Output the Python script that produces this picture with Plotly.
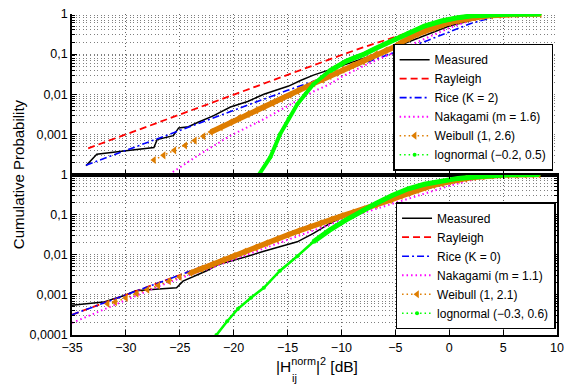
import numpy as np
import plotly.graph_objects as go

# ---------------- data ----------------
x_ticks = [-35, -30, -25, -20, -15, -10, -5, 0, 5, 10]
y_tickvals_top = [1, 0.1, 0.01, 0.001]
y_ticktext_top = ["1", "0,1", "0,01", "0,001"]
y_tickvals_bot = [1, 0.1, 0.01, 0.001, 0.0001]
y_ticktext_bot = ["1", "0,1", "0,01", "0,001", "0,0001"]

# top panel
meas_top_x = [-33.7, -32.7, -30, -27.4, -27.1, -25.6, -25.1, -24.2, -23.3, -21.9, -20.3, -18.7, -17.2,
              -16.0, -14.9, -13.8, -12.6, -11.2, -9.9, -8.5, -7, -5, -3, 0, 3, 6, 8.3]
meas_top_y = [1.66e-4, 3.2e-4, 3.9e-4, 4.7e-4, 7.4e-4, 9.3e-4, 1.45e-3, 1.55e-3, 2.0e-3, 2.9e-3, 4.8e-3,
              6.6e-3, 0.010, 0.013, 0.016, 0.022, 0.030, 0.040, 0.052, 0.068, 0.095, 0.15, 0.24, 0.5, 0.8,
              0.96, 1.0]
ray_top_x = [-33.5, -30, -25, -20, -15, -12, -10, -8, -6, -4, -2, 0, 2, 4, 6, 8.3]
ray_top_y = [4.5e-4, 1.0e-3, 3.2e-3, 0.0100, 0.031, 0.061, 0.095, 0.147, 0.22, 0.33, 0.47, 0.63, 0.80,
             0.92, 0.98, 1.0]
rice_top_x = [-33.7, -30, -25, -20, -15, -12, -10, -8, -6, -4, -2, 0, 2, 4, 6, 8.3]
rice_top_y = [1.7e-4, 4.0e-4, 1.27e-3, 4.0e-3, 0.0125, 0.024, 0.037, 0.058, 0.09, 0.14, 0.22, 0.36,
              0.58, 0.82, 0.97, 1.0]
naka_top_x = [-26.0, -23.3, -20.3, -18.7, -17.2, -15.7, -14.1, -12.6, -11.1, -9.9, -8, -6, -4, -2, 0,
              2, 4, 6, 8.3]
naka_top_y = [1.0e-4, 3.0e-4, 9.3e-4, 1.5e-3, 2.4e-3, 4.0e-3, 6.9e-3, 0.0117, 0.0177, 0.028, 0.05,
              0.085, 0.15, 0.26, 0.45, 0.7, 0.9, 0.99, 1.0]
weib_top_x = [-27.4, -26.5, -25.5, -24.5, -23.6, -22.8, -22.1, -21.2, -20.3, -19.5, -18.7, -17.9, -17.2,
              -16.4, -15.6, -14.8, -14.1, -13.3, -12.6, -11.8, -11.1, -10.5, -9.9, -9.0, -8.0, -7.4,
              -6.8, -5.9, -5.0, -4.4, -3.8, -3.0, -2.3, -1.5, -0.7, 0.0, 0.8, 1.5, 2.3, 3.1, 3.9, 4.6,
              5.4, 6.2, 7.0, 7.7, 8.4]
weib_top_y = [2.3e-4, 3.0e-4, 4.0e-4, 5.3e-4, 7.0e-4, 9.0e-4, 1.15e-3, 1.5e-3, 2.0e-3, 2.6e-3, 3.2e-3,
              4.0e-3, 4.8e-3, 6.0e-3, 7.6e-3, 9.6e-3, 0.012, 0.015, 0.0185, 0.023, 0.028, 0.034, 0.041,
              0.052, 0.066, 0.082, 0.10, 0.125, 0.155, 0.20, 0.25, 0.31, 0.37, 0.45, 0.54, 0.61, 0.68,
              0.75, 0.81, 0.87, 0.92, 0.95, 0.98, 0.99, 1.0, 1.0, 1.0]
logn_top_x = [-17.65, -16.6, -15.7, -14.9, -14.1, -13.3, -12.6, -11.8, -11.1, -10.3, -9.6, -8.8, -8.0,
              -6.8, -5.0, -3.8, -2.3, -0.7, 0.8, 2.3, 3.9, 5.4, 8.4]
logn_top_y = [1.0e-4, 2.7e-4, 1.0e-3, 2.5e-3, 5.6e-3, 0.0105, 0.0177, 0.027, 0.038, 0.051, 0.066,
              0.081, 0.097, 0.14, 0.23, 0.34, 0.50, 0.67, 0.81, 0.91, 0.97, 0.99, 1.0]

# bottom panel
meas_bot_x = [-35, -32.1, -30.15, -29.1, -26.95, -25.3, -24.7, -23.5, -22.5, -21.5, -20.25, -18.7,
              -17.2, -15.7, -14.1, -12.6, -11.1, -10.2, -9, -7.5, -6, -4, -2, 0, 2, 4, 6, 8.3]
meas_bot_y = [5.5e-4, 6.6e-4, 9.6e-4, 1.26e-3, 1.4e-3, 1.5e-3, 2.2e-3, 3.0e-3, 4.0e-3, 5.6e-3, 6.9e-3,
              9.2e-3, 0.0122, 0.016, 0.021, 0.034, 0.06, 0.08, 0.11, 0.15, 0.2, 0.3, 0.45, 0.62, 0.8,
              0.93, 0.99, 1.0]
ray_bot_x = [-35, -30, -25, -20, -15, -12, -10, -8, -6, -4, -2, 0, 2, 4, 6, 8.3]
ray_bot_y = [3.2e-4, 1.0e-3, 3.2e-3, 0.0100, 0.031, 0.061, 0.095, 0.147, 0.22, 0.33, 0.47, 0.63, 0.80,
             0.92, 0.98, 1.0]
rice_bot_x = [-35, -30, -25, -20, -15, -12, -10, -8, -6, -4, -2, 0, 2, 4, 6, 8.3]
rice_bot_y = [3.2e-4, 1.0e-3, 3.2e-3, 0.0100, 0.031, 0.061, 0.095, 0.147, 0.22, 0.33, 0.47, 0.63, 0.80,
              0.92, 0.98, 1.0]
naka_bot_x = [-35, -33, -31.2, -29.1, -27.3, -25, -22, -20, -17, -14, -11, -8, -5, -2, 0, 2, 4, 6, 8.3]
naka_bot_y = [2.0e-4, 3.4e-4, 5.5e-4, 9.3e-4, 1.5e-3, 2.6e-3, 4.8e-3, 7.6e-3, 0.015, 0.030, 0.058,
              0.11, 0.20, 0.36, 0.52, 0.72, 0.9, 0.98, 1.0]
weib_bot_x = [-31.7, -31, -30, -29, -28, -27, -26, -25, -24, -23, -22, -21, -20, -19, -18, -17, -16,
              -15, -14, -13, -12, -11, -10, -9, -8, -6.8, -5.5, -4.5, -3.8, -3.0, -2.3, -1.5, -0.7,
              0.0, 0.8, 1.5, 2.3, 3.1, 3.9, 4.6, 5.4, 6.2, 7.0, 7.7, 8.3]
weib_bot_y = [6.0e-4, 6.6e-4, 8.4e-4, 1.07e-3, 1.35e-3, 1.72e-3, 2.2e-3, 2.8e-3, 3.5e-3, 4.5e-3, 5.8e-3,
              7.4e-3, 9.4e-3, 0.0120, 0.0152, 0.0193, 0.0245, 0.031, 0.039, 0.049, 0.061, 0.075, 0.092,
              0.112, 0.135, 0.175, 0.23, 0.29, 0.34, 0.41, 0.47, 0.54, 0.60, 0.67, 0.73, 0.79, 0.85,
              0.90, 0.94, 0.97, 0.98, 0.99, 1.0, 1.0, 1.0]
logn_bot_x = [-21.6, -20.6, -19.6, -18.4, -17.2, -15.7, -14.1, -12.6, -11.1, -9.6, -8.0, -6.8, -5.3,
              -3.8, -2.3, -0.7, 0.8, 2.3, 3.9, 5.4, 8.3]
logn_bot_y = [1.0e-4, 2.2e-4, 4.5e-4, 8.5e-4, 1.5e-3, 4.0e-3, 9.2e-3, 0.021, 0.041, 0.073, 0.13, 0.19,
              0.30, 0.44, 0.57, 0.70, 0.80, 0.87, 0.94, 0.98, 1.0]

labels_top = ["Measured", "Rayleigh", "Rice (K = 2)", "Nakagami (m = 1.6)", "Weibull (1, 2.6)",
              "lognormal (\u22120.2, 0.5)"]
labels_bot = ["Measured", "Rayleigh", "Rice (K = 0)", "Nakagami (m = 1.1)", "Weibull (1, 2.1)",
              "lognormal (\u22120.3, 0.6)"]

# ---------------- styling ----------------
FONT = "Liberation Sans, Arial, Helvetica, sans-serif"
C_BLACK = "black"
C_RED = "#FF0000"
C_BLUE = "#0000FF"
C_MAG = "#FF00FF"
C_ORG = "#DE7D00"
C_GRN = "#00FF00"

fig = go.Figure()


def add_panel(xa, ya, leg, mx, my, rx, ry, cx, cy, nx, ny, wx, wy, lx, ly, labels,
              w_thr, l_thr, l_thin):
    fig.add_trace(go.Scatter(x=mx, y=my, mode="lines", name=labels[0], xaxis=xa, yaxis=ya, legend=leg,
                             line=dict(color=C_BLACK, width=1.5)))
    fig.add_trace(go.Scatter(x=rx, y=ry, mode="lines", name=labels[1], xaxis=xa, yaxis=ya, legend=leg,
                             line=dict(color=C_RED, width=1.8, dash="7px,4px")))
    fig.add_trace(go.Scatter(x=cx, y=cy, mode="lines", name=labels[2], xaxis=xa, yaxis=ya, legend=leg,
                             line=dict(color=C_BLUE, width=1.6, dash="7px,3px,2px,3px")))
    fig.add_trace(go.Scatter(x=nx, y=ny, mode="lines", name=labels[3], xaxis=xa, yaxis=ya, legend=leg,
                             line=dict(color=C_MAG, width=2, dash="1.5px,3px")))
    wx_a = np.array(wx)
    wy_a = np.array(wy)
    m = wy_a >= w_thr
    fig.add_trace(go.Scatter(x=wx_a[m], y=wy_a[m], mode="lines", showlegend=False, xaxis=xa, yaxis=ya,
                             legend=leg, line=dict(color=C_ORG, width=5.5)))
    fig.add_trace(go.Scatter(x=wx, y=wy, mode="lines+markers", name=labels[4], xaxis=xa, yaxis=ya,
                             legend=leg, line=dict(color=C_ORG, width=1.5, dash="1.5px,3px"),
                             marker=dict(symbol="triangle-left", size=7, color=C_ORG)))
    lx_a = np.array(lx)
    ly_a = np.array(ly)
    m2 = ly_a >= l_thr
    fig.add_trace(go.Scatter(x=lx, y=ly, mode="lines", showlegend=False, xaxis=xa, yaxis=ya,
                             legend=leg, line=dict(color=C_GRN, width=l_thin)))
    fig.add_trace(go.Scatter(x=lx_a[m2], y=ly_a[m2], mode="lines", showlegend=False, xaxis=xa, yaxis=ya,
                             legend=leg, line=dict(color=C_GRN, width=5)))
    fig.add_trace(go.Scatter(x=lx, y=ly, mode="lines+markers", name=labels[5], xaxis=xa, yaxis=ya,
                             legend=leg, line=dict(color=C_GRN, width=1.5, dash="1.5px,3px"),
                             marker=dict(symbol="circle", size=4, color=C_GRN)))


add_panel("x", "y", "legend", meas_top_x, meas_top_y, ray_top_x, ray_top_y, rice_top_x, rice_top_y,
          naka_top_x, naka_top_y, weib_top_x, weib_top_y, logn_top_x, logn_top_y, labels_top,
          1.0e-3, 0.03, 4)
add_panel("x2", "y2", "legend2", meas_bot_x, meas_bot_y, ray_bot_x, ray_bot_y, rice_bot_x, rice_bot_y,
          naka_bot_x, naka_bot_y, weib_bot_x, weib_bot_y, logn_bot_x, logn_bot_y, labels_bot,
          3.0e-3, 0.01, 2.5)

minor_vals = [k * 10.0 ** e for e in range(-4, 0) for k in range(2, 10)]
GRID = "rgba(0,0,0,0.5)"
GDASH = "1px,2.6px"


def xaxis(anchor, showlabels, mirror):
    return dict(anchor=anchor, domain=[0, 1], range=[-35, 10], tickvals=x_ticks,
                showticklabels=showlabels, ticks="inside", ticklen=5, tickcolor="black",
                showline=True, linecolor="black", linewidth=1.5, mirror=mirror,
                showgrid=True, gridcolor="rgba(0,0,0,0.6)", griddash=GDASH, gridwidth=1,
                zeroline=False, tickfont=dict(size=12.5, color="black", family=FONT))


def yaxis(anchor, dom, tv, tt, mirror):
    return dict(anchor=anchor, domain=dom, type="log", range=[-4, 0], tickvals=tv, ticktext=tt,
                ticks="inside", ticklen=5, tickcolor="black",
                showline=True, linecolor="black", linewidth=1.5, mirror=mirror,
                showgrid=True, gridcolor=GRID, griddash=GDASH, gridwidth=1, zeroline=False,
                tickfont=dict(size=12.5, color="black", family=FONT),
                minor=dict(tickmode="array", tickvals=minor_vals, ticks="inside", ticklen=3,
                           tickcolor="black", showgrid=True, gridcolor=GRID, griddash=GDASH,
                           gridwidth=1))


legend_common = dict(bgcolor="white", bordercolor="black", borderwidth=1.5,
                     font=dict(size=12, color="black", family=FONT), tracegroupgap=0,
                     xanchor="right", yanchor="bottom", itemwidth=30)

fig.update_layout(
    width=571, height=387,
    margin=dict(l=72, r=7, t=9, b=52),
    paper_bgcolor="white", plot_bgcolor="white",
    font=dict(family=FONT, color="black"),
    xaxis=xaxis("y", False, False),
    yaxis=yaxis("x", [0.5, 1], y_tickvals_top, y_ticktext_top, False),
    xaxis2=xaxis("y2", True, "ticks"),
    yaxis2=yaxis("x2", [0, 0.5], y_tickvals_bot, y_ticktext_bot, "ticks"),
    legend=dict(x=0.992, y=0.512, **legend_common),
    legend2=dict(x=0.997, y=0.018, **legend_common),
    annotations=[
        dict(text="Cumulative Probability", xref="paper", yref="paper", x=-0.11, y=0.5,
             textangle=-90, showarrow=False, font=dict(size=15, color="black", family=FONT),
             xanchor="center", yanchor="middle"),
        dict(text="|H<sup>norm</sup>|<sup>2</sup> [dB]", xref="paper", yref="paper",
             x=(277 - 72) / 492, y=-0.095, showarrow=False, xanchor="left", yanchor="middle",
             font=dict(size=15.5, color="black", family=FONT)),
        dict(text="ij", xref="paper", yref="paper", x=(293 - 72) / 492, y=-0.135,
             showarrow=False, xanchor="left", yanchor="middle",
             font=dict(size=11, color="black", family=FONT)),
    ],
)

fig.write_html("out.html", config={"displayModeBar": False},
               post_script="document.body.style.margin='0px';")
